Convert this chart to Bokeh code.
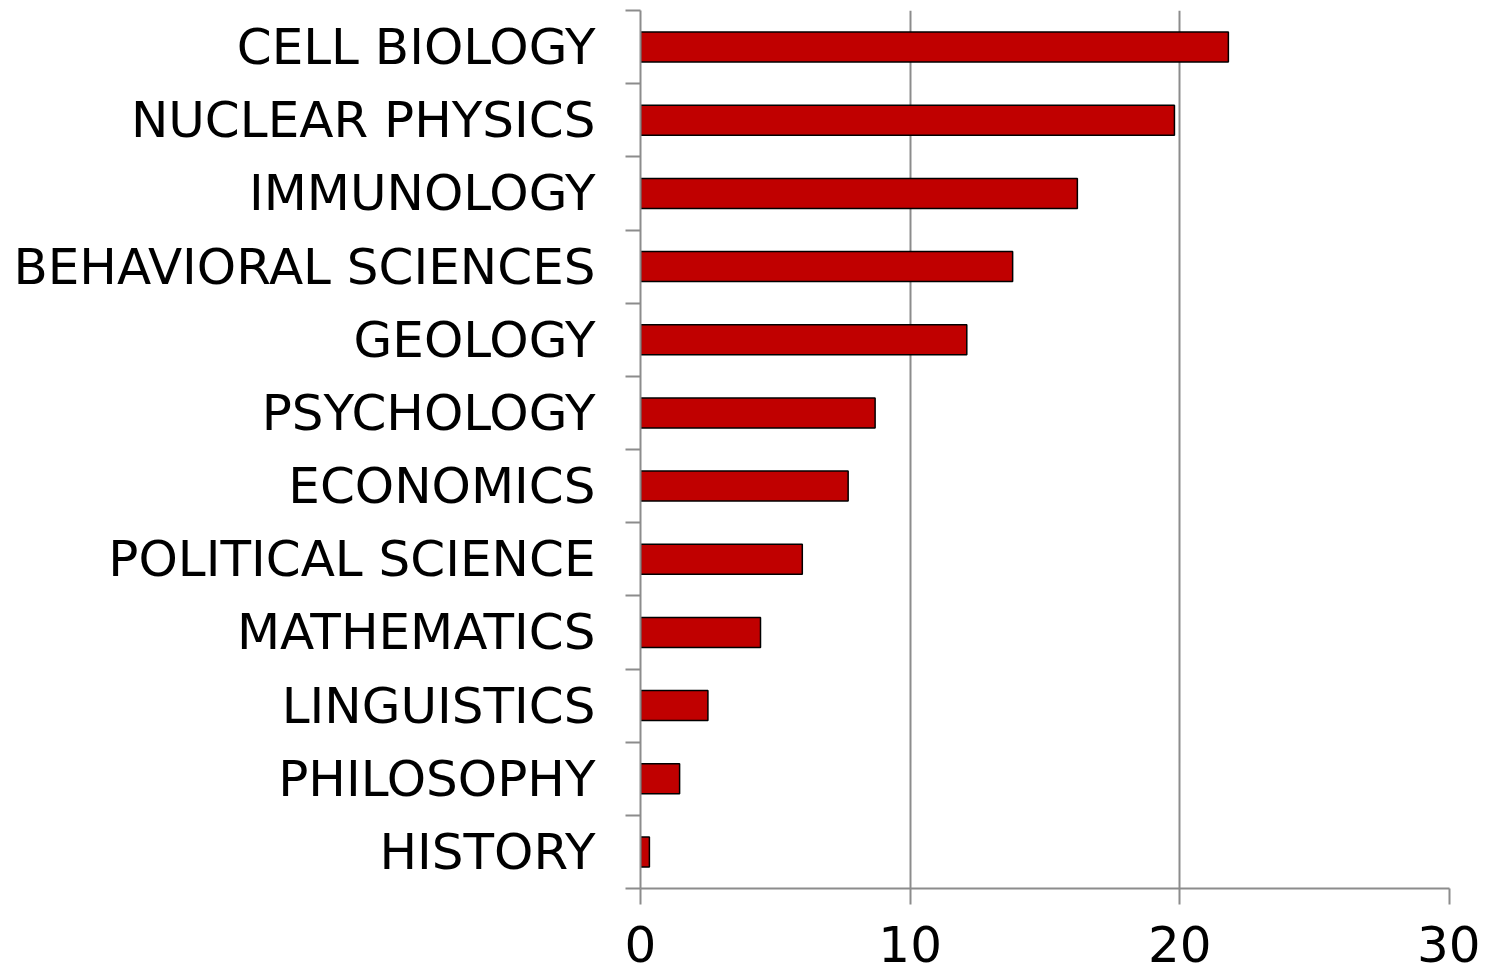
from bokeh.plotting import figure
from bokeh.models import Range1d, FixedTicker
from bokeh.embed import file_html
from bokeh.resources import INLINE

categories = ["CELL BIOLOGY", "NUCLEAR PHYSICS", "IMMUNOLOGY", "BEHAVIORAL SCIENCES",
              "GEOLOGY", "PSYCHOLOGY", "ECONOMICS", "POLITICAL SCIENCE",
              "MATHEMATICS", "LINGUISTICS", "PHILOSOPHY", "HISTORY"]
values = [21.8, 19.8, 16.2, 13.8, 12.1, 8.7, 7.7, 6.0, 4.45, 2.5, 1.45, 0.33]
x_ticks = [0, 10, 20, 30]

n = len(categories)
ys = list(range(n))

GRAY = "#8c8c8c"
FONT = "DejaVu Sans"

p = figure(width=1480, height=974, output_backend="svg", toolbar_location=None,
           x_range=Range1d(0, 30), y_range=Range1d(n - 0.5, -0.5),
           min_border_left=640, min_border_top=10, min_border_right=31, min_border_bottom=86)
p.outline_line_color = None

p.hbar(y=ys, right=values, left=0, height=0.41, fill_color="#c00000",
       line_color="black", line_width=1.5)

# x axis
xa = p.xaxis[0]
xa.ticker = FixedTicker(ticks=x_ticks, minor_ticks=[])
xa.axis_line_color = GRAY
xa.axis_line_width = 2
xa.major_tick_line_color = GRAY
xa.major_tick_line_width = 2
xa.major_tick_out = 16
xa.major_tick_in = 0
xa.minor_tick_line_color = None
xa.major_label_text_font = FONT
xa.major_label_text_font_size = "50px"
xa.major_label_text_color = "black"
xa.major_label_text_line_height = 0.5
xa.major_label_standoff = 21

# y axis
ya = p.yaxis[0]
ya.ticker = FixedTicker(ticks=ys, minor_ticks=[i - 0.5 for i in range(n + 1)])
ya.major_label_overrides = {i: c for i, c in zip(ys, categories)}
ya.axis_line_color = GRAY
ya.axis_line_width = 2
ya.major_tick_line_color = None
ya.major_tick_out = 0
ya.major_tick_in = 0
ya.minor_tick_line_color = GRAY
ya.minor_tick_line_width = 2
ya.minor_tick_out = 15
ya.minor_tick_in = 0
ya.major_label_text_font = FONT
ya.major_label_text_font_size = "50px"
ya.major_label_text_color = "black"
ya.major_label_standoff = 30

p.xgrid.grid_line_color = GRAY
p.xgrid.grid_line_width = 2
p.ygrid.grid_line_color = None

open("out.html", "w").write(file_html(p, INLINE))
